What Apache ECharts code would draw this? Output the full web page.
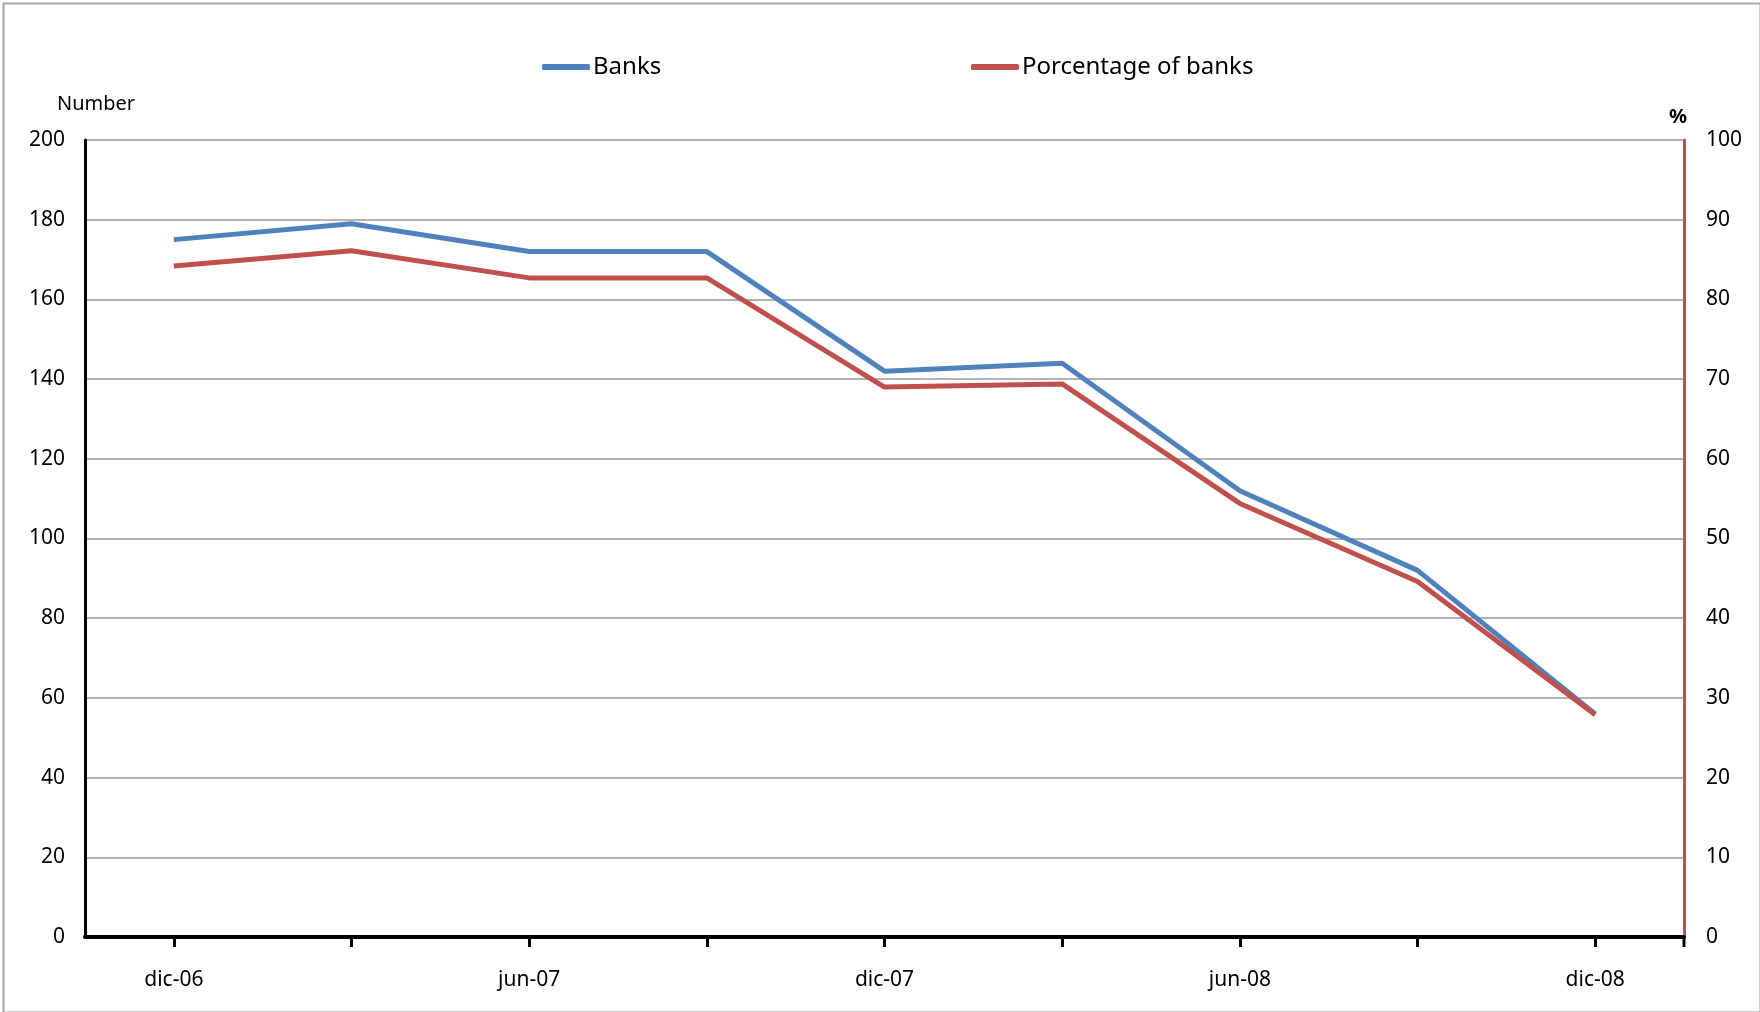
<!DOCTYPE html>
<html>
<head>
<meta charset="utf-8">
<script src="https://cdn.jsdelivr.net/npm/echarts@6/dist/echarts.min.js"></script>
<style>
  html, body { margin: 0; padding: 0; background: #fff; }
  #chart { width: 1760px; height: 1012px; }
</style>
</head>
<body>
<div id="chart"></div>
<script>
// Quarterly periods
const periods = ['dic-06', 'mar-07', 'jun-07', 'sep-07', 'dic-07', 'mar-08', 'jun-08', 'sep-08', 'dic-08'];
// Number of banks (left axis)
const banks = [175, 179, 172, 172, 142, 144, 112, 92, 56];
// Percentage of banks (right axis)
const pctBanks = [84.2, 86.1, 82.7, 82.7, 69.0, 69.4, 54.4, 44.6, 27.9];

const leftTicks = { min: 0, max: 200, interval: 20 };
const rightTicks = { min: 0, max: 100, interval: 10 };

const FONT = '"Noto Sans", "Open Sans", sans-serif';
const BLUE = '#4F81BD';
const RED = '#C0504D';

const GRID = { left: 85, right: 76, top: 140, bottom: 75 };

const chart = echarts.init(document.getElementById('chart'));
chart.setOption({
  animation: false,
  backgroundColor: '#fff',
  textStyle: { fontFamily: FONT, color: '#000' },
  grid: Object.assign({ containLabel: false }, GRID),
  legend: [
    {
      data: ['Banks'], left: 537, top: 50, icon: 'roundRect',
      itemWidth: 48, itemHeight: 6, itemGap: 6,
      textStyle: { fontFamily: FONT, fontSize: 24, color: '#000', padding: [0, 0, 0, -2] }
    },
    {
      data: ['Porcentage of banks'], left: 966, top: 50, icon: 'roundRect',
      itemWidth: 48, itemHeight: 6, itemGap: 6,
      textStyle: { fontFamily: FONT, fontSize: 24, color: '#000', padding: [0, 0, 0, -2] }
    }
  ],
  graphic: [
    {
      type: 'rect', left: 1, top: 1, silent: true,
      shape: { width: 1757, height: 1009 },
      style: { fill: 'none', stroke: '#A6A6A6', lineWidth: 2 }
    },
    {
      type: 'text', left: 57, top: 94,
      style: { text: 'Number', font: '20px ' + FONT, fill: '#000' }
    },
    {
      type: 'text', left: 1669, top: 107,
      style: { text: '%', font: 'bold 20px ' + FONT, fill: '#000' }
    },
    {
      // closing tick mark at the right end of the category axis
      type: 'line', silent: true,
      shape: { x1: 1760 - GRID.right, y1: 1012 - GRID.bottom, x2: 1760 - GRID.right, y2: 1012 - GRID.bottom + 10 },
      style: { stroke: '#000', lineWidth: 3 }
    }
  ],
  xAxis: {
    type: 'category',
    data: periods,
    boundaryGap: true,
    axisLine: { lineStyle: { color: '#000', width: 4 } },
    axisTick: { show: true, alignWithLabel: true, interval: 0, length: 10, lineStyle: { color: '#000', width: 3 } },
    axisLabel: { interval: 1, margin: 33, fontSize: 21, fontFamily: FONT, color: '#000' },
    splitLine: { show: false }
  },
  yAxis: [
    {
      type: 'value',
      min: leftTicks.min, max: leftTicks.max, interval: leftTicks.interval,
      position: 'left',
      axisLine: { show: true, lineStyle: { color: '#000', width: 3 } },
      axisTick: { show: false },
      axisLabel: { margin: 20, fontSize: 21, fontFamily: FONT, color: '#000' },
      splitLine: { show: true, lineStyle: { color: '#9A9A9A', width: 1.5 } }
    },
    {
      type: 'value',
      min: rightTicks.min, max: rightTicks.max, interval: rightTicks.interval,
      position: 'right',
      axisLine: { show: true, lineStyle: { color: RED, width: 3 } },
      axisTick: { show: false },
      axisLabel: { margin: 22, fontSize: 21, fontFamily: FONT, color: '#000' },
      splitLine: { show: false }
    }
  ],
  series: [
    {
      name: 'Banks', type: 'line', yAxisIndex: 0, data: banks,
      symbol: 'none', color: BLUE,
      lineStyle: { color: BLUE, width: 5 }
    },
    {
      name: 'Porcentage of banks', type: 'line', yAxisIndex: 1, data: pctBanks,
      symbol: 'none', color: RED,
      lineStyle: { color: RED, width: 5 }
    }
  ]
});
</script>
</body>
</html>
